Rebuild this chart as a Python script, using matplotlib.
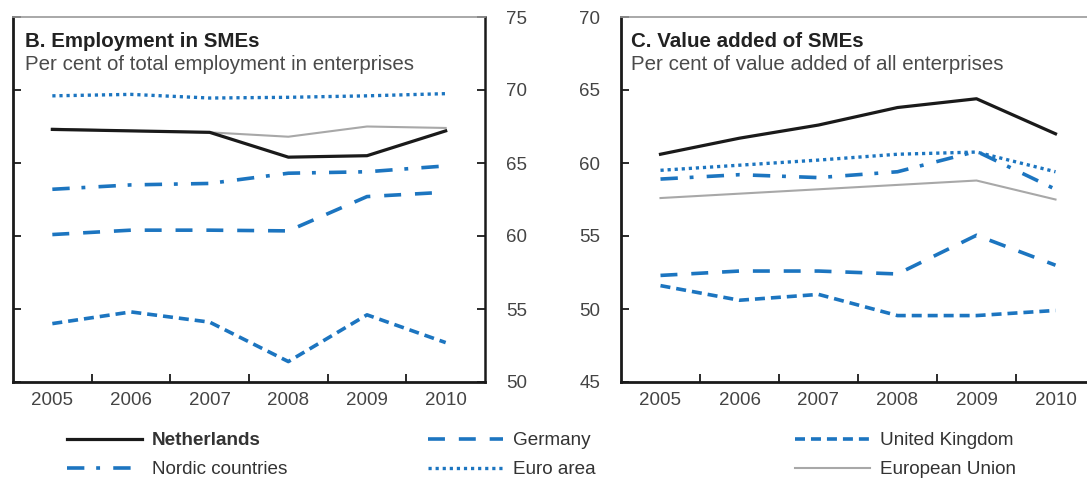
import matplotlib
matplotlib.use("Agg")
import matplotlib.pyplot as plt
import numpy as np

plt.rcParams['font.family'] = ['Liberation Sans', 'DejaVu Sans']
plt.rcParams['lines.scale_dashes'] = False

years = ['2005', '2006', '2007', '2008', '2009', '2010']

# Panel B: Employment in SMEs (% of total employment in enterprises)
nl_emp = [67.3, 67.2, 67.1, 65.4, 65.5, 67.2]
nordic_emp = [63.2, 63.5, 63.6, 64.3, 64.4, 64.8]
de_emp = [60.1, 60.4, 60.4, 60.35, 62.7, 63.0]
euro_emp = [69.6, 69.7, 69.45, 69.5, 69.6, 69.75]
uk_emp = [54.0, 54.8, 54.1, 51.4, 54.6, 52.7]
eu_emp = [67.35, 67.2, 67.1, 66.8, 67.5, 67.4]

# Panel C: Value added of SMEs (% of value added of all enterprises)
nl_va = [60.6, 61.7, 62.6, 63.8, 64.4, 62.0]
nordic_va = [58.9, 59.2, 59.0, 59.4, 60.8, 58.2]
de_va = [52.3, 52.6, 52.6, 52.4, 55.05, 53.0]
euro_va = [59.5, 59.85, 60.2, 60.6, 60.75, 59.4]
uk_va = [51.6, 50.6, 51.0, 49.55, 49.55, 49.9]
eu_va = [57.6, 57.9, 58.2, 58.5, 58.8, 57.5]

series_names = ['Netherlands', 'Nordic countries', 'Germany', 'Euro area',
                'United Kingdom', 'European Union']

BLUE = '#1c75c0'
styles = {
    'Netherlands': dict(color='#1a1a1a', lw=2.3, ls='-'),
    'Nordic countries': dict(color=BLUE, lw=2.6, ls=(0, (12.5, 8.5, 2.8, 9.5))),
    'Germany': dict(color=BLUE, lw=2.6, ls=(0, (12.2, 10))),
    'Euro area': dict(color=BLUE, lw=2.4, ls=(0, (2.3, 2.8))),
    'United Kingdom': dict(color=BLUE, lw=2.6, ls=(0, (7.2, 4.3))),
    'European Union': dict(color='#a8a8a8', lw=1.5, ls='-'),
}

W, H = 1087, 483
fig = plt.figure(figsize=(W / 100, H / 100), dpi=100)
axL = fig.add_axes([13 / W, 101 / H, 472 / W, 365 / H])
axR = fig.add_axes([621 / W, 101 / H, 474 / W, 365 / H])

x = np.arange(len(years))
data_L = {'Netherlands': nl_emp, 'Nordic countries': nordic_emp, 'Germany': de_emp,
          'Euro area': euro_emp, 'United Kingdom': uk_emp, 'European Union': eu_emp}
data_R = {'Netherlands': nl_va, 'Nordic countries': nordic_va, 'Germany': de_va,
          'Euro area': euro_va, 'United Kingdom': uk_va, 'European Union': eu_va}

draw_order = ['European Union', 'United Kingdom', 'Germany', 'Nordic countries',
              'Euro area', 'Netherlands']

handles = {}
for ax, data in ((axL, data_L), (axR, data_R)):
    for name in draw_order:
        st = styles[name]
        ln, = ax.plot(x, data[name], color=st['color'], lw=st['lw'], ls=st['ls'],
                      dash_capstyle='butt', solid_joinstyle='round', label=name)
        if ax is axL:
            handles[name] = ln

TICK_COLOR = '#444444'
for ax, (lo, hi), side in ((axL, (50, 75), 'right'), (axR, (45, 70), 'left')):
    ax.set_xlim(-0.5, 5.5)
    ax.set_ylim(lo, hi)
    ax.set_xticks(x)
    ax.set_xticklabels(years)
    ax.set_xticks(x[:-1] + 0.5, minor=True)
    ax.tick_params(axis='x', which='major', length=0, pad=7, labelsize=13.5,
                   labelcolor=TICK_COLOR)
    ax.tick_params(axis='x', which='minor', direction='in', length=6, width=1.3,
                   color='#1a1a1a', bottom=True, top=False)
    ax.set_yticks(np.arange(lo, hi + 1, 5))
    ax.tick_params(axis='y', direction='in', length=6, width=1.3, color='#1a1a1a',
                   left=True, right=True, labelsize=13.5, labelcolor=TICK_COLOR, pad=15,
                   labelleft=(side == 'left'), labelright=(side == 'right'))
    for s in ('left', 'bottom'):
        ax.spines[s].set_linewidth(2.0)
        ax.spines[s].set_color('#1a1a1a')
    ax.spines['right'].set_linewidth(1.8)
    ax.spines['right'].set_color('#1a1a1a')
    ax.spines['top'].set_linewidth(1.2)
    ax.spines['top'].set_color('#9a9a9a')

TS = 14.8
axL.text(12 / 472, 1 - 30 / 365, 'B. Employment in SMEs', transform=axL.transAxes,
         fontsize=TS, fontweight='bold', color='#222222', va='baseline', ha='left')
axL.text(12 / 472, 1 - 53 / 365, 'Per cent of total employment in enterprises',
         transform=axL.transAxes, fontsize=TS, color='#4a4a4a', va='baseline', ha='left')
axR.text(10 / 474, 1 - 30 / 365, 'C. Value added of SMEs', transform=axR.transAxes,
         fontsize=TS, fontweight='bold', color='#222222', va='baseline', ha='left')
axR.text(10 / 474, 1 - 53 / 365, 'Per cent of value added of all enterprises',
         transform=axR.transAxes, fontsize=TS, color='#4a4a4a', va='baseline', ha='left')

legend_cols = [(['Netherlands', 'Nordic countries'], 67),
               (['Germany', 'Euro area'], 428),
               (['United Kingdom', 'European Union'], 795)]
LFS = 13.6
for names, xpix in legend_cols:
    leg = fig.legend([handles[n] for n in names], names, loc='upper left',
                     bbox_to_anchor=(xpix / W, 1 - 432 / H), frameon=False,
                     prop={'size': LFS},
                     handlelength=75 / (LFS * 1.389), handletextpad=10 / (LFS * 1.389),
                     labelspacing=0.62, borderpad=0, borderaxespad=0)
    for t in leg.get_texts():
        t.set_color('#333333')
        if t.get_text() == 'Netherlands':
            t.set_fontweight('bold')

fig.savefig('out.png', dpi=100)
